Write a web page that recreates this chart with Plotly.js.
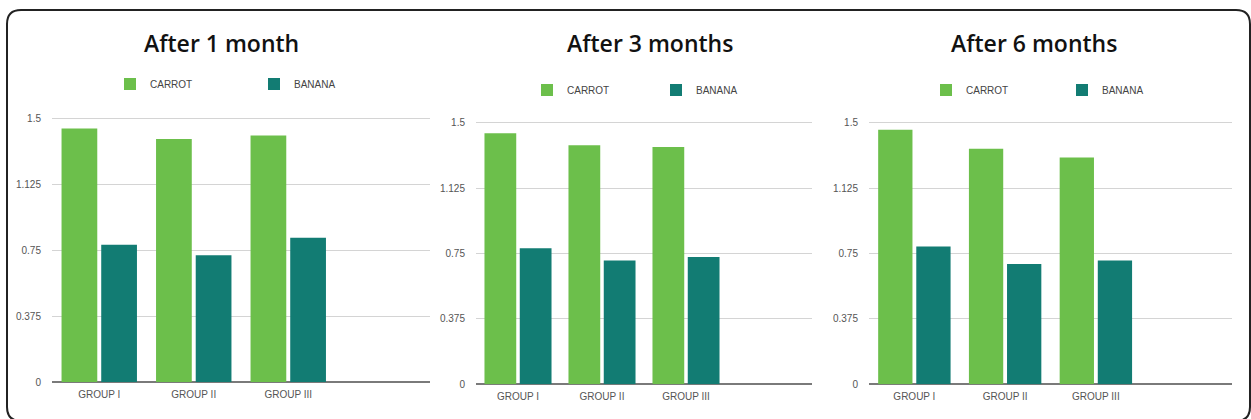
<!DOCTYPE html>
<html>
<head>
<meta charset="utf-8">
<script src="https://cdn.plot.ly/plotly-3.0.1.min.js"></script>
<style>
  html, body { margin: 0; padding: 0; background: #ffffff; }
  #chart { width: 1251px; height: 419px; }
</style>
</head>
<body>
<div id="chart"></div>
<script>
// ---- data ----
const categories = ["GROUP I", "GROUP II", "GROUP III"];
const panelTitles = ["After 1 month", "After 3 months", "After 6 months"];
const seriesNames = ["CARROT", "BANANA"];
const carrot1 = [1.44, 1.38, 1.40];
const banana1 = [0.78, 0.72, 0.82];
const carrot3 = [1.44, 1.37, 1.36];
const banana3 = [0.78, 0.71, 0.73];
const carrot6 = [1.46, 1.35, 1.30];
const banana6 = [0.79, 0.69, 0.71];
const yTicks = [0, 0.375, 0.75, 1.125, 1.5];
const yTickLabels = ["0", "0.375", "0.75", "1.125", "1.5"];

// ---- layout helpers (pixel -> paper) ----
const W = 1251, H = 419;
const px = x => x / W;
const py = y => (H - y) / H;

const carrotColor = "#6cbf4b";
const bananaColor = "#127c73";
const tickFont = { family: "Liberation Sans, Arial, sans-serif", size: 10, color: "#555" };
const yMax = 1.515;

const panels = [
  { c: carrot1, b: banana1, x0: 52, x1: 430, yb: 382, yt: 118, legY: 84, legX: 110, entry: 99, titleX: 221 },
  { c: carrot3, b: banana3, x0: 476, x1: 812, yb: 384.3, yt: 122.7, legY: 90, legX: 527, entry: 84, titleX: 650 },
  { c: carrot6, b: banana6, x0: 869, x1: 1232, yb: 384.3, yt: 122.7, legY: 90, legX: 926, entry: 91, titleX: 1034 }
];

const data = [];
const layout = {
  width: W, height: H,
  margin: { l: 0, r: 0, t: 0, b: 0 },
  paper_bgcolor: "#ffffff",
  plot_bgcolor: "#ffffff",
  barmode: "group",
  bargap: 0.16,
  bargroupgap: 0.1,
  annotations: [],
  shapes: []
};

panels.forEach((p, i) => {
  const n = i === 0 ? "" : String(i + 1);
  const legName = "legend" + n;
  // extend the top of the domain a hair so the 1.5 gridline stays inside the plot
  const pxPerUnit = (p.yb - p.yt) / 1.5;
  const ytop = p.yb - pxPerUnit * yMax;
  data.push({
    type: "bar", name: seriesNames[0], x: categories, y: p.c,
    marker: { color: carrotColor }, xaxis: "x" + n, yaxis: "y" + n,
    legend: legName, hoverinfo: "x+y+name"
  });
  data.push({
    type: "bar", name: seriesNames[1], x: categories, y: p.b,
    marker: { color: bananaColor }, xaxis: "x" + n, yaxis: "y" + n,
    legend: legName, hoverinfo: "x+y+name"
  });
  layout["xaxis" + n] = {
    domain: [px(p.x0), px(p.x1)],
    anchor: "y" + n,
    type: "category",
    range: [-0.5, 3.5],
    showgrid: false, zeroline: false, showline: false,
    ticks: "", tickfont: tickFont, ticklabelstandoff: 5,
    fixedrange: true
  };
  layout["yaxis" + n] = {
    domain: [py(p.yb), py(ytop)],
    anchor: "x" + n,
    range: [0, yMax],
    tickvals: yTicks, ticktext: yTickLabels,
    showgrid: true, gridcolor: "#d4d4d4", gridwidth: 1,
    zeroline: true, zerolinecolor: "#7a7a7a", zerolinewidth: 2,
    showline: false, ticks: "", tickfont: tickFont, ticklabelstandoff: 10,
    fixedrange: true
  };
  layout[legName] = {
    orientation: "h",
    x: px(p.legX), xanchor: "left",
    y: py(p.legY), yanchor: "middle",
    entrywidth: p.entry, entrywidthmode: "pixels",
    font: { family: "Liberation Sans, Arial, sans-serif", size: 10, color: "#444" },
    bgcolor: "rgba(0,0,0,0)",
    itemclick: false, itemdoubleclick: false
  };
  layout.annotations.push({
    text: panelTitles[i], xref: "paper", yref: "paper",
    x: px(p.titleX), y: py(43), xanchor: "center", yanchor: "middle",
    showarrow: false,
    font: { family: "Open Sans, sans-serif", size: 23, color: "#111", weight: 600 }
  });
});

// rounded frame around the whole figure
const L = 7, T = 10, R = 1250, B = 421, rad = 14;
const f = (x, y) => px(x).toFixed(5) + "," + py(y).toFixed(5);
const framePath =
  "M" + f(L + rad, T) +
  " L" + f(R - rad, T) +
  " Q" + f(R, T) + " " + f(R, T + rad) +
  " L" + f(R, B - rad) +
  " Q" + f(R, B) + " " + f(R - rad, B) +
  " L" + f(L + rad, B) +
  " Q" + f(L, B) + " " + f(L, B - rad) +
  " L" + f(L, T + rad) +
  " Q" + f(L, T) + " " + f(L + rad, T) + " Z";
layout.shapes.push({
  type: "path", xref: "paper", yref: "paper", path: framePath,
  line: { color: "#222", width: 2 }, fillcolor: "rgba(0,0,0,0)", layer: "above"
});

Plotly.newPlot("chart", data, layout, { displayModeBar: false, staticPlot: true });
</script>
</body>
</html>
